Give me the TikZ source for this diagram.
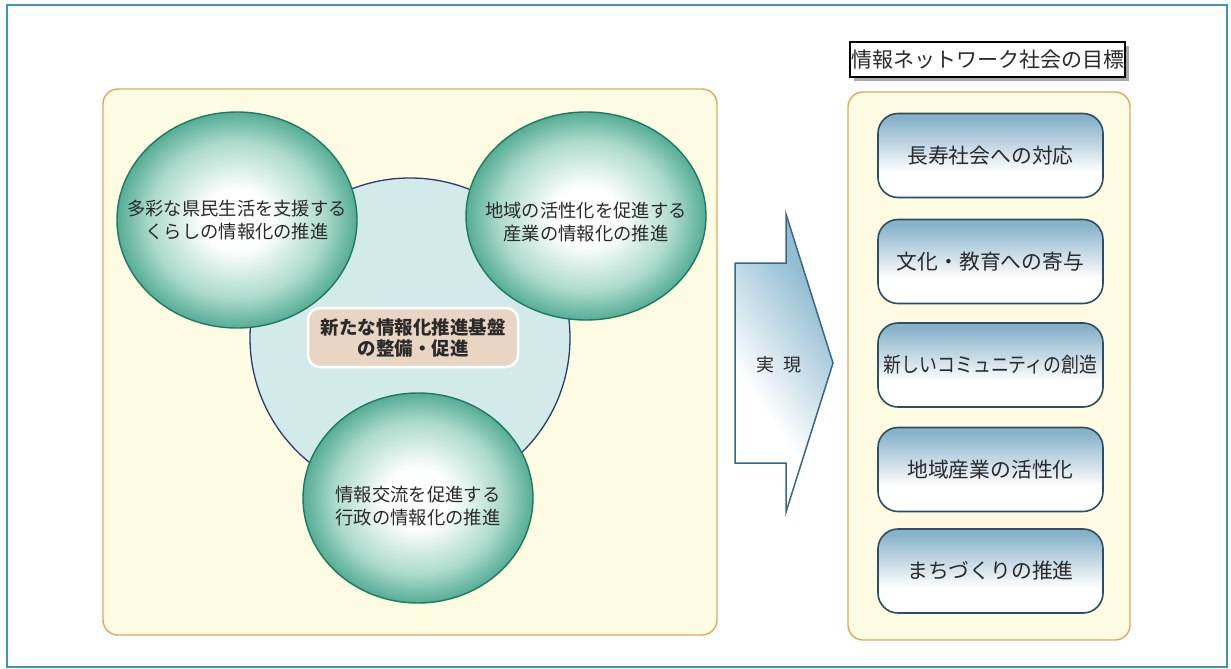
\documentclass[tikz,border=0pt]{standalone}
\usepackage{fontspec}
\setmainfont{Noto Sans CJK JP}
\usetikzlibrary{shapes.geometric,shadows}
\definecolor{frameteal}{HTML}{3E9AA2}
\definecolor{paleyellow}{HTML}{FDFBE2}
\definecolor{goldline}{HTML}{D8AC5C}
\definecolor{ballgreen}{HTML}{55AD95}
\definecolor{ballmid}{HTML}{ADDBCC}
\definecolor{ballline}{HTML}{1E7A5F}
\definecolor{hubblue}{HTML}{D3EAEA}
\definecolor{hubline}{HTML}{2D3C6E}
\definecolor{peach}{HTML}{E9D5C4}
\definecolor{arrowblue}{HTML}{93BDD3}
\definecolor{arrowline}{HTML}{3A6787}
\definecolor{boxblue}{HTML}{88B2CA}
\definecolor{boxline}{HTML}{2E4C62}
\definecolor{textgray}{HTML}{2A2A2A}
\definecolor{shadowgray}{HTML}{A8A8A8}
\pgfdeclareradialshading{greenball}{\pgfpoint{0bp}{0bp}}{color(0bp)=(white); color(7bp)=(white); color(18bp)=(ballmid); color(25bp)=(ballgreen); color(50bp)=(ballgreen)}
\pgfdeclareverticalshading{goalshade}{100bp}{color(0bp)=(white); color(40bp)=(white); color(72bp)=(boxblue); color(100bp)=(boxblue)}
\pgfdeclareverticalshading{arrowshade}{100bp}{color(0bp)=(white); color(38bp)=(white); color(68bp)=(arrowblue); color(100bp)=(arrowblue)}
\tikzset{
  panel/.style={draw=goldline, line width=1.4pt, fill=paleyellow, rounded corners=15pt},
  ball/.style={ellipse, draw=ballline, line width=1.4pt, shade, shading=greenball, inner sep=0pt},
  balltext/.style={align=center, text=textgray, font=\fontsize{18.3}{23}\selectfont},
  hubdisc/.style={circle, draw=hubline, line width=1.3pt, fill=hubblue, inner sep=0pt, minimum size=320pt},
  hubbox/.style={draw=white, line width=2.5pt, fill=peach, rounded corners=12pt, minimum width=210pt, minimum height=59pt, align=center, text=textgray, font=\fontsize{18.5}{21}\selectfont\bfseries},
  goalbox/.style={draw=boxline, line width=1.6pt, shade, shading=goalshade, rounded corners=20pt, minimum width=225pt, minimum height=84pt, text=textgray, font=\fontsize{20.8}{24}\selectfont},
  titlebox/.style={draw=black, line width=1.2pt, fill=white, minimum width=275pt, minimum height=35pt, inner sep=0pt, text=textgray, font=\fontsize{21}{24}\selectfont, drop shadow={shadow xshift=4pt, shadow yshift=-4pt, fill=shadowgray, opacity=1}},
  bigarrow/.style={draw=arrowline, line width=1.5pt, shade, shading=arrowshade, shading angle=-55, line join=miter}
}
\begin{document}
\begin{tikzpicture}[x=1pt, y=-1pt]
\useasboundingbox (0,0) rectangle (1231,669);
\fill[white] (0,0) rectangle (1231,669);
\draw[frameteal, line width=2pt] (7,5) rectangle (1227,667);

% left panel
\draw[panel] (103,89) rectangle (717,635);
\node[hubdisc] (hub) at (410,338) {};
\node[ball, minimum width=240pt, minimum height=216pt] (life) at (237,220) {};
\node[balltext] (lifetext) at (life.center) {多彩な県民生活を支援する\\くらしの情報化の推進};
\node[ball, minimum width=240pt, minimum height=208pt] (industry) at (586,216) {};
\node[balltext] (industrytext) at ([yshift=-6pt]industry.center) {地域の活性化を促進する\\産業の情報化の推進};
\node[ball, minimum width=230pt, minimum height=210pt] (admin) at (418,498) {};
\node[balltext] (admintext) at ([yshift=-8pt]admin.center) {情報交流を促進する\\行政の情報化の推進};
\node[hubbox] (base) at (413,337.5) {新たな情報化推進基盤\\の整備・促進};

% arrow
\draw[bigarrow] (735,263) -- (786,263) -- (786,214) -- (833,363) -- (786,512) -- (786,463) -- (735,463) -- cycle;
\node[text=textgray, font=\fontsize{18}{20}\selectfont] (realize) at (779,365) {実\hspace{0.5em}現};

% right panel
\node[titlebox] (title) at (987.5,59.5) {情報ネットワーク社会の目標};
\draw[panel] (848,92) rectangle (1130,640);
\node[goalbox] (g1) at (990.5,155.5) {長寿社会への対応};
\node[goalbox] (g2) at (990.5,261.5) {文化・教育への寄与};
\node[goalbox] (g3) at (990.5,365) {\scalebox{0.86}[1]{新しいコミュニティの創造}};
\node[goalbox] (g4) at (990.5,469.5) {地域産業の活性化};
\node[goalbox] (g5) at (990.5,571) {まちづくりの推進};
\end{tikzpicture}
\end{document}
